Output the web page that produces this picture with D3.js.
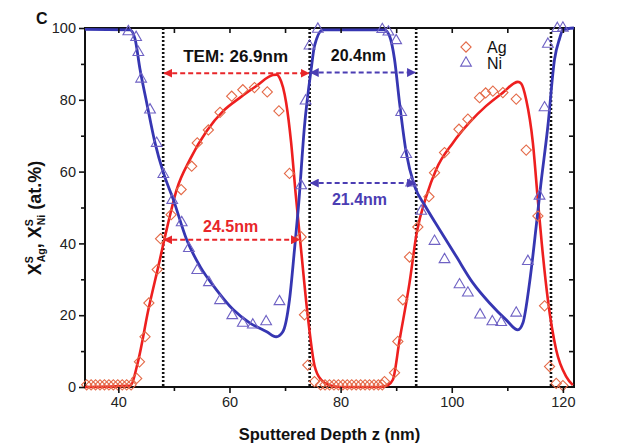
<!DOCTYPE html>
<html>
<head>
<meta charset="utf-8">
<script src="https://cdn.jsdelivr.net/npm/d3@7"></script>
<style>
  body { margin: 0; background: #fff; }
  text { font-family: Arial, "Liberation Sans", Helvetica, sans-serif; }
</style>
</head>
<body>
<svg id="chart" width="625" height="445"></svg>
<script>
// measured Ag points (diamonds)
const agZ = [34.3, 35.1, 35.9, 36.7, 37.5, 38.3, 39.1, 39.9, 40.7, 41.5, 42.3,
  43.3, 43.8, 44.8, 45.5, 47.0, 47.6, 49.5, 51.3, 53.2, 54.2, 56.2, 58.3, 60.4, 62.4, 64.5, 66.8, 68.9, 70.8,
  72.9, 73.5, 74.1, 75.3,
  76.4, 77.2, 78.0, 78.8, 79.6, 80.4, 81.2, 82.0, 82.8, 83.6, 84.4, 85.2, 86.0, 86.8, 87.5,
  87.9, 89.7, 90.3, 91.2, 92.4, 93.9, 95.9, 96.9, 98.7, 101.3, 102.9, 105.0, 106.1, 107.4, 109.2, 111.6,
  113.4, 115.5, 116.7, 117.6, 118.8, 120.0];
const agV = [0.6, 0.6, 0.6, 0.6, 0.6, 0.6, 0.6, 0.6, 0.6, 0.6, 0.6,
  2.4, 7, 14, 23.4, 32.7, 41.3, 48, 55, 61.5, 68, 71.6, 76.5, 81, 82.8, 83.4, 82.2, 76.9, 59.5,
  41.8, 20.1, 6.1, 1.5,
  0.6, 0.6, 0.6, 0.6, 0.6, 0.6, 0.6, 0.6, 0.6, 0.6, 0.6, 0.6, 0.6, 0.6, 0.6,
  1.5, 4, 12.7, 24.3, 36.2, 44.6, 53, 59.7, 65.3, 71.8, 74.6, 80.6, 81.9, 82.4, 82.0, 80.2,
  66, 47.6, 22.6, 5.7, 1, 0.4];

// measured Ni points (triangles)
const niZ = [41.8, 43.2, 43.6, 44.1, 45.7, 46.9, 48.1, 49.7, 51.4, 52.7, 54.2, 56.3, 58.3, 60.5, 62.4, 64.2, 66.6, 69.0,
  72.9, 73.7, 74.4, 75.9, 87.5, 88.6,
  90.0, 90.9, 91.8, 92.7, 94.5, 96.9, 98.7, 101.4, 102.9, 105.1, 107.3, 108.9, 111.6, 113.7,
  115.8, 116.7, 117.3, 119.0, 120.0];
const niV = [99, 97.4, 93.2, 85.8, 77.2, 67.9, 59.2, 52, 45.8, 38.6, 32.5, 29.1, 24.1, 19.9, 17.8, 17.3, 18.2, 23.8,
  56.1, 79.7, 95, 99.7, 99.6, 98.9,
  96.5, 76.5, 64.8, 56.9, 49, 40.6, 35.5, 28.5, 26.2, 20.1, 18.2, 18, 20.6, 35,
  53.2, 77.8, 95.5, 99.9, 100];

// fitted curves
const agLineZ = [34, 42.1, 43.6, 45.4, 47.2, 48.7, 50.5, 52.9, 55.9, 58.9, 61.9, 64.9, 67.8, 68.5, 69.0, 70.2, 71.1,
  71.9, 72.9, 74.1, 75.3, 76.5, 78, 80, 87, 88.5, 89.4, 90.6, 92.4, 93.7, 95.4, 97.2, 100.2, 103.2, 106.2,
  109.2, 111.9, 112.5, 113.4, 114.6, 115.5, 116.2, 117.3, 118.8, 120.6, 121.8];
const agLineV = [0, 0.3, 7.5, 21.5, 33.6, 43.9, 55, 63.4, 71.3, 76.9, 80.6, 83.9, 86.9, 87, 86.2, 79.2, 68,
  54, 38, 19.6, 6, 2, 0.5, 0, 0, 0.5, 2, 13, 29, 43, 53, 60.6, 68, 73.7, 78.3,
  82, 85, 84.5, 80, 68, 52, 40, 24.3, 10.3, 2.9, 0.5];
const niLineZ = [34, 42.1, 43, 43.9, 45.1, 46.6, 48.1, 49.9, 52.3, 54.7, 57.7, 60.7, 63.7, 66.7, 68.4, 69.6, 70.8,
  71.7, 72.4, 73.5, 74.7, 75.3, 76.8, 87.9, 88.8, 89.7, 90.6, 91.8, 93.3, 95.2, 97.8, 100.8, 103.8, 106.8,
  109.8, 111.9, 112.8, 114, 115.2, 116, 117.3, 118.5, 119.4, 120, 122];
const niLineV = [99.6, 99.5, 97, 88.5, 79.2, 68, 59.7, 52.2, 41, 33.6, 27, 21.5, 17.8, 15.4, 14, 15.4, 24.3,
  38.3, 50, 72.7, 88.5, 95, 99.5, 99.5, 97.8, 91.3, 79.2, 65.3, 56, 50.5, 43.9, 36.4, 29, 23.4,
  18.7, 15.9, 17.8, 29, 44.8, 56, 72.7, 91.3, 97, 99.5, 100];

// interface positions (dotted lines) and width annotations
const interfaces = [48.07, 74.43, 93.6, 117.86];
const spanLabels = ["TEM: 26.9nm", "20.4nm", "24.5nm", "21.4nm"];
const spanFrom = [48.07, 74.43, 48.07, 74.43];
const spanTo = [74.43, 93.6, 72.7, 93.6];
const spanLevel = [87.4, 87.6, 41, 56.8];
const spanTextZ = [61.1, 83.2, 60.2, 83.4];
const spanTextV = [90.5, 90.8, 43.3, 50.6];

const xTicks = [40, 60, 80, 100, 120];
const yTicks = [0, 20, 40, 60, 80, 100];

const svg = d3.select('#chart');
const mLeft = 85, mRight = 574, mTop = 28, mBottom = 387;

const x = d3.scaleLinear().domain([34, 122]).range([mLeft, mRight]);
const y = d3.scaleLinear().domain([0, 100]).range([mBottom, mTop]);

const red = '#ee1f1f', blue = '#3636b2', agMark = '#e46a48', niMark = '#6f62c4', purple = '#4b3db3';
const annColors = ['#e8262a', purple, '#e8262a', purple];
const textColors = ['#111', '#111', '#e8262a', purple];

// arrowheads
const defs = svg.append('defs');
[['arr-red', '#e8262a'], ['arr-purple', purple]].forEach(([id, c]) => {
  defs.append('marker')
    .attr('id', id)
    .attr('viewBox', '0 0 10 10')
    .attr('refX', 9).attr('refY', 5)
    .attr('markerWidth', 4.5).attr('markerHeight', 4.5)
    .attr('orient', 'auto-start-reverse')
    .append('path')
    .attr('d', 'M0,0 L10,5 L0,10 Z')
    .attr('fill', c);
});

// frame first, so the curves sit on top of it
svg.append('rect')
  .attr('x', mLeft).attr('y', mTop)
  .attr('width', mRight - mLeft).attr('height', mBottom - mTop)
  .attr('fill', 'none').attr('stroke', '#111').attr('stroke-width', 2);

// dotted interface lines
svg.selectAll('.iface')
  .data(interfaces)
  .join('line')
  .attr('x1', d => x(d)).attr('x2', d => x(d))
  .attr('y1', mTop).attr('y2', mBottom)
  .attr('stroke', '#111')
  .attr('stroke-width', 2.6)
  .attr('stroke-dasharray', '2,2');

// fitted curves
let line = d3.line().x(d => x(d[0])).y(d => y(d[1])).curve(d3.curveMonotoneX);
svg.append('path')
  .attr('d', line(d3.zip(agLineZ, agLineV)))
  .attr('fill', 'none').attr('stroke', red).attr('stroke-width', 2.6);
svg.append('path')
  .attr('d', line(d3.zip(niLineZ, niLineV)))
  .attr('fill', 'none').attr('stroke', blue).attr('stroke-width', 2.8);

// markers
let diamond = d3.symbol().type(d3.symbolSquare).size(52);
let triangle = d3.symbol().type(d3.symbolTriangle).size(50);
svg.append('g').selectAll('path')
  .data(d3.zip(agZ, agV))
  .join('path')
  .attr('d', diamond)
  .attr('transform', d => `translate(${x(d[0])},${y(d[1])}) rotate(45)`)
  .attr('fill', 'none').attr('stroke', agMark).attr('stroke-width', 1.1);
svg.append('g').selectAll('path')
  .data(d3.zip(niZ, niV))
  .join('path')
  .attr('d', triangle)
  .attr('transform', d => `translate(${x(d[0])},${y(d[1])})`)
  .attr('fill', 'none').attr('stroke', niMark).attr('stroke-width', 1.1);

// width annotations
spanLabels.forEach((label, i) => {
  let mid = annColors[i] === purple ? 'arr-purple' : 'arr-red';
  svg.append('line')
    .attr('x1', x(spanFrom[i]) + 1).attr('x2', x(spanTo[i]) - 1)
    .attr('y1', y(spanLevel[i])).attr('y2', y(spanLevel[i]))
    .attr('stroke', annColors[i]).attr('stroke-width', 2)
    .attr('stroke-dasharray', '5,3')
    .attr('marker-start', `url(#${mid})`)
    .attr('marker-end', `url(#${mid})`);
  svg.append('text')
    .attr('x', x(spanTextZ[i])).attr('y', y(spanTextV[i]))
    .attr('text-anchor', 'middle')
    .attr('font-size', i === 0 ? 17 : 16)
    .attr('font-weight', 'bold')
    .attr('fill', textColors[i])
    .text(label);
});

// axes ticks
let xAxis = svg.append('g').attr('transform', `translate(0,${mBottom})`)
  .call(d3.axisBottom(x).tickValues(xTicks).tickSize(6).tickPadding(4));
let xMinor = svg.append('g').attr('transform', `translate(0,${mBottom})`)
  .call(d3.axisBottom(x).tickValues([50, 70, 90, 110]).tickSize(4).tickFormat(''));
let yAxis = svg.append('g').attr('transform', `translate(${mLeft},0)`)
  .call(d3.axisLeft(y).tickValues(yTicks).tickSize(6).tickPadding(3));
let yMinor = svg.append('g').attr('transform', `translate(${mLeft},0)`)
  .call(d3.axisLeft(y).tickValues([10, 30, 50, 70, 90]).tickSize(4).tickFormat(''));
let xTop = svg.append('g').attr('transform', `translate(0,${mTop})`)
  .call(d3.axisBottom(x).tickValues([40, 50, 60, 70, 80, 90, 100, 110, 120]).tickSize(5).tickFormat(''));
let yRight = svg.append('g').attr('transform', `translate(${mRight},0)`)
  .call(d3.axisLeft(y).tickValues([10, 20, 30, 40, 50, 60, 70, 80, 90]).tickSize(5).tickFormat(''));

[xAxis, xMinor, yAxis, yMinor, xTop, yRight].forEach(g => {
  g.select('.domain').remove();
  g.selectAll('line').attr('stroke', '#111').attr('stroke-width', 1.6);
  g.selectAll('text').attr('font-size', 14.5).attr('fill', '#222')
    .attr('font-family', 'Arial, "Liberation Sans", sans-serif');
});

// legend
svg.append('path').attr('d', diamond)
  .attr('transform', 'translate(466,47) rotate(45)')
  .attr('fill', 'none').attr('stroke', agMark).attr('stroke-width', 1.1);
svg.append('path').attr('d', triangle)
  .attr('transform', 'translate(466,63)')
  .attr('fill', 'none').attr('stroke', niMark).attr('stroke-width', 1.1);
svg.append('text').attr('x', 487).attr('y', 53).attr('font-size', 16).attr('fill', '#111').text('Ag');
svg.append('text').attr('x', 487).attr('y', 69).attr('font-size', 16).attr('fill', '#111').text('Ni');

// axis titles
svg.append('text')
  .attr('x', (mLeft + mRight) / 2).attr('y', 440)
  .attr('text-anchor', 'middle').attr('font-size', 16.5).attr('font-weight', 'bold')
  .attr('fill', '#111')
  .text('Sputtered Depth z (nm)');

let yt = svg.append('text')
  .attr('transform', 'translate(41,218) rotate(-90)')
  .attr('text-anchor', 'middle').attr('font-size', 18).attr('font-weight', 'bold')
  .attr('fill', '#111');
yt.append('tspan').text('X');
yt.append('tspan').attr('font-size', 10.5).attr('dy', -8).text('S');
yt.append('tspan').attr('font-size', 10.5).attr('dx', -6).attr('dy', 12).text('Ag');
yt.append('tspan').attr('dy', -4).text(', X');
yt.append('tspan').attr('font-size', 10.5).attr('dy', -8).text('S');
yt.append('tspan').attr('font-size', 10.5).attr('dx', -6).attr('dy', 12).text('Ni');
yt.append('tspan').attr('dy', -4).text(' (at.%)');

svg.append('text').attr('x', 36).attr('y', 24).attr('font-size', 16).attr('font-weight', 'bold')
  .attr('fill', '#111').text('C');
</script>
</body>
</html>
